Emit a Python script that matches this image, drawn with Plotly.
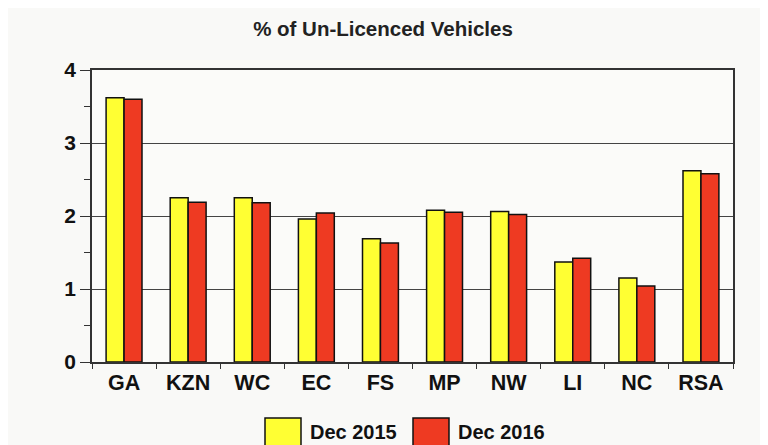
import plotly.graph_objects as go

regions = ["GA", "KZN", "WC", "EC", "FS", "MP", "NW", "LI", "NC", "RSA"]
dec_2015 = [3.62, 2.25, 2.25, 1.96, 1.69, 2.08, 2.06, 1.37, 1.15, 2.62]
dec_2016 = [3.60, 2.19, 2.18, 2.04, 1.63, 2.05, 2.02, 1.42, 1.04, 2.58]
series_names = ["Dec 2015", "Dec 2016"]
y_ticks = [0, 1, 2, 3, 4]

# page has an 8px body margin, so the figure is a bit smaller than the window
OFF = 8
W, H = 760, 437
ML, MR, MT, MB = 84, 35, 62, 83
font = "Liberation Sans, Arial, sans-serif"
yellow = "#ffff33"
red = "#ee3a22"

fig = go.Figure()
fig.add_trace(go.Bar(x=regions, y=dec_2015, name=series_names[0],
                     marker=dict(color=yellow, line=dict(color="#111111", width=1.5))))
fig.add_trace(go.Bar(x=regions, y=dec_2016, name=series_names[1],
                     marker=dict(color=red, line=dict(color="#111111", width=1.5))))

# page pixel -> paper helpers for the hand-drawn legend
pw, ph = W - ML - MR, H - MT - MB
def px(x):
    return (x - OFF - ML) / pw
def py(y):
    return (H - MB - (y - OFF)) / ph

shapes = []
annotations = []
for x0, col, label in [(265, yellow, series_names[0]), (413, red, series_names[1])]:
    shapes.append(dict(type="rect", xref="paper", yref="paper",
                       x0=px(x0), x1=px(x0 + 36), y0=py(450), y1=py(418),
                       fillcolor=col, line=dict(color="#111111", width=1.5)))
    annotations.append(dict(xref="paper", yref="paper", x=px(x0 + 43), y=py(432),
                            text=label, showarrow=False,
                            xanchor="left", yanchor="middle",
                            font=dict(size=20, color="#111111", family=font, weight="bold")))

fig.update_layout(
    width=W,
    height=H,
    paper_bgcolor="#f9f9f7",
    plot_bgcolor="#fbfbf9",
    margin=dict(l=ML, r=MR, t=MT, b=MB),
    title=dict(text="% of Un-Licenced Vehicles", x=(383 - OFF) / W, xref="container",
               xanchor="center", y=1 - (29 - OFF) / H, yanchor="middle",
               font=dict(size=20.5, color="#222222", family=font, weight="bold")),
    barmode="group",
    bargap=0.44,
    bargroupgap=0,
    showlegend=False,
    shapes=shapes,
    annotations=annotations,
    xaxis=dict(
        showline=True, linecolor="#333333", linewidth=1.5, mirror=True,
        ticks="outside", tickson="boundaries", ticklen=5, tickcolor="#333333",
        tickfont=dict(size=21.5, color="#111111", family=font, weight="bold"),
        showgrid=False,
    ),
    yaxis=dict(
        range=[0, 4], tickvals=y_ticks,
        showline=True, linecolor="#333333", linewidth=1.5, mirror=True,
        ticks="outside", ticklen=10, tickcolor="#333333",
        minor=dict(dtick=0.5, ticks="outside", ticklen=6, tickcolor="#333333", showgrid=False),
        showgrid=True, gridcolor="#444444", gridwidth=1,
        zeroline=False,
        tickfont=dict(size=21, color="#111111", family=font, weight="bold"),
    ),
)

fig.write_html("out.html")
